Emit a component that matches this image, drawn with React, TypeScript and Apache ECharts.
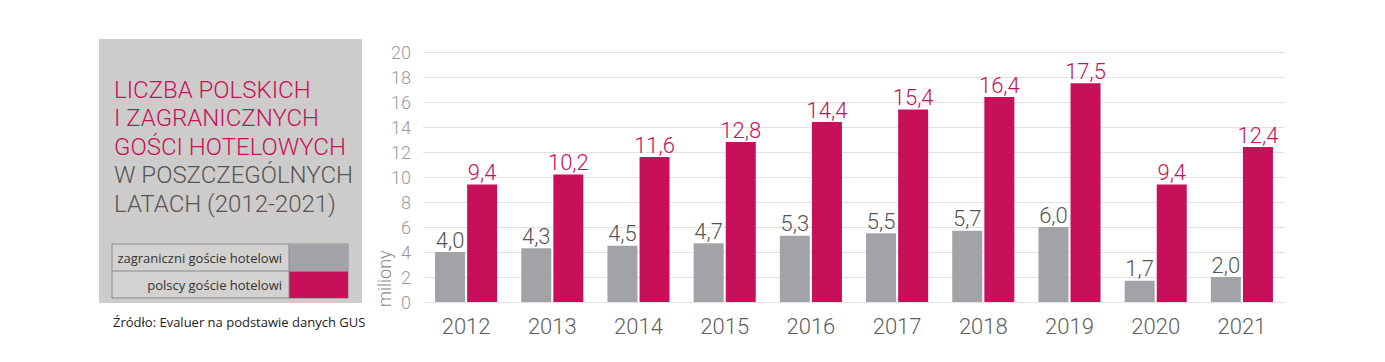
import React, { useEffect, useRef } from "react";
import * as echarts from "echarts";

const years = ["2012", "2013", "2014", "2015", "2016", "2017", "2018", "2019", "2020", "2021"];
const foreignGuests = [4.0, 4.3, 4.5, 4.7, 5.3, 5.5, 5.7, 6.0, 1.7, 2.0];
const polishGuests = [9.4, 10.2, 11.6, 12.8, 14.4, 15.4, 16.4, 17.5, 9.4, 12.4];
const titleLines = [
  { text: "LICZBA POLSKICH", accent: true },
  { text: "I ZAGRANICZNYCH", accent: true },
  { text: "GOŚCI HOTELOWYCH", accent: true },
  { text: "W POSZCZEGÓLNYCH", accent: false },
  { text: "LATACH (2012-2021)", accent: false },
];
const legendLabels = ["zagraniczni goście hotelowi", "polscy goście hotelowi"];
const sourceText = "Źródło: Evaluer na podstawie danych GUS";
const yAxisName = "miliony";

const RED = "#c8105a";
const GRAY = "#a2a3a6";
const FONT = "'Open Sans', 'Noto Sans', sans-serif";
const LIGHT = "Roboto, 'Open Sans', sans-serif";

const fmt = (v: number) => v.toFixed(1).replace(".", ",");

export default function App() {
  const ref = useRef<HTMLDivElement>(null);
  useEffect(() => {
    if (!ref.current) return;
    const chart = echarts.init(ref.current, undefined, { renderer: "svg" });
    const graphic: any[] = [
      { type: "rect", shape: { x: 99, y: 39, width: 263, height: 264 }, style: { fill: "#cdcccb" } },
      ...titleLines.map((l, i) => ({
        type: "text",
        x: 114,
        y: 89.5 + i * 28.5,
        style: {
          text: l.text,
          fill: l.accent ? RED : "#555555",
          font: `300 24px ${LIGHT}`,
          align: "left",
          verticalAlign: "middle",
        },
      })),
      { type: "rect", shape: { x: 112, y: 244, width: 236, height: 54 }, style: { fill: "#d3d2d0", stroke: "#8a8a8a", lineWidth: 1 } },
      { type: "line", shape: { x1: 112, y1: 271, x2: 348, y2: 271 }, style: { stroke: "#8a8a8a", lineWidth: 1 } },
      { type: "rect", shape: { x: 289, y: 244.5, width: 59, height: 26.5 }, style: { fill: GRAY } },
      { type: "rect", shape: { x: 289, y: 271.5, width: 59, height: 26.5 }, style: { fill: RED } },
      { type: "line", shape: { x1: 289, y1: 244, x2: 289, y2: 298 }, style: { stroke: "#8a8a8a", lineWidth: 1 } },
      ...legendLabels.map((t, i) => ({
        type: "text",
        x: 282,
        y: 257.5 + i * 27,
        style: { text: t, fill: "#333333", font: `13px ${FONT}`, align: "right", verticalAlign: "middle" },
      })),
      {
        type: "text",
        x: 113,
        y: 322,
        style: { text: sourceText, fill: "#222222", font: `13px ${FONT}`, align: "left", verticalAlign: "middle" },
      },
    ];
    chart.setOption({
      animation: false,
      grid: { left: 423, right: 100, top: 52, bottom: 60 },
      xAxis: {
        type: "category",
        data: years,
        axisLine: { show: false },
        axisTick: { show: false },
        axisLabel: { color: "#606060", fontSize: 22, fontFamily: LIGHT, fontWeight: 300, margin: 13 },
      },
      yAxis: {
        type: "value",
        min: 0,
        max: 20,
        interval: 2,
        name: yAxisName,
        nameLocation: "start",
        nameRotate: 90,
        nameGap: 7,
        nameTextStyle: { color: "#888888", fontSize: 18, fontFamily: LIGHT, fontWeight: 300, align: "left", verticalAlign: "bottom", padding: [0, 0, 30, 2] },
        axisLine: { show: false },
        axisTick: { show: false },
        axisLabel: { color: "#9a9a9a", fontSize: 18, fontFamily: LIGHT, fontWeight: 300, margin: 12 },
        splitLine: { lineStyle: { color: "#e2e2e2", width: 1 } },
      },
      series: [
        {
          type: "bar",
          name: legendLabels[0],
          data: foreignGuests,
          barWidth: 30,
          barGap: "7%",
          itemStyle: { color: GRAY },
          label: { show: true, position: "top", distance: 1, formatter: (p: any) => fmt(p.value), color: "#555555", fontSize: 22, fontFamily: LIGHT, fontWeight: 300 },
        },
        {
          type: "bar",
          name: legendLabels[1],
          data: polishGuests,
          barWidth: 30,
          itemStyle: { color: RED },
          label: { show: true, position: "top", distance: 1, formatter: (p: any) => fmt(p.value), color: RED, fontSize: 22, fontFamily: LIGHT, fontWeight: 300 },
        },
      ],
      graphic,
    });
    return () => chart.dispose();
  }, []);
  return <div ref={ref} style={{ position: "absolute", left: 0, top: 0, width: 1385, height: 362 }} />;
}
